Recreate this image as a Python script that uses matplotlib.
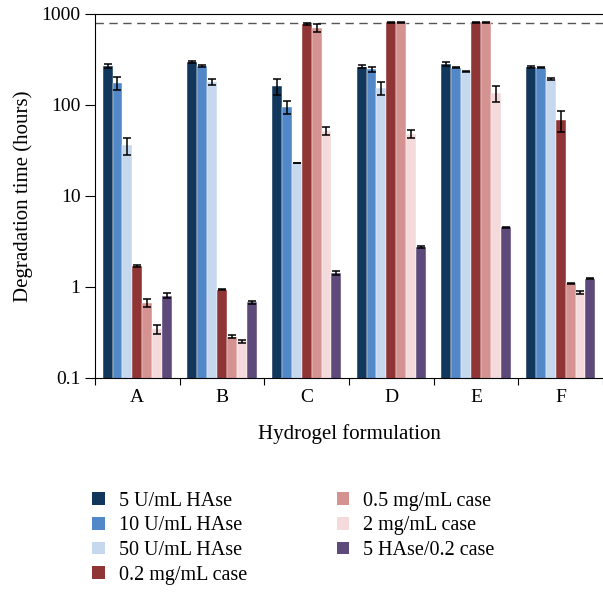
import matplotlib.pyplot as plt
import numpy as np
from matplotlib.patches import Patch

plt.rcParams['font.family'] = ['Liberation Serif', 'DejaVu Serif']

groups = ["A", "B", "C", "D", "E", "F"]
series = ["5 U/mL HAse", "10 U/mL HAse", "50 U/mL HAse", "0.2 mg/mL case",
          "0.5 mg/mL case", "2 mg/mL case", "5 HAse/0.2 case"]
colors = ["#12375c", "#5288c8", "#c5d8ee", "#8f3536", "#d49391", "#f4dadb", "#5d4a7a"]

# mean degradation time (hours), one list per series, groups A-F
hase5 = [268, 297, 162, 264, 282, 262]
hase10 = [173, 268, 95, 247, 257, 257]
hase50 = [36, 180, 23.1, 155, 234, 193]
case02 = [1.70, 0.93, 776, 805, 805, 68]
case05 = [0.67, 0.285, 702, 805, 805, 1.10]
case2 = [0.345, 0.253, 52, 48, 135, 0.875]
combo = [0.80, 0.68, 1.43, 2.73, 4.53, 1.23]

# error bar half-widths (hours)
hase5_err = [12, 6, 33, 8, 12, 6]
hase10_err = [28, 5, 15, 15, 4, 4]
hase50_err = [7.5, 13, 0.2, 25, 3, 6]
case02_err = [0.06, 0.01, 25, 5, 5, 18]
case05_err = [0.06, 0.012, 65, 5, 5, 0.01]
case2_err = [0.04, 0.01, 5, 4.5, 26, 0.03]
combo_err = [0.05, 0.03, 0.08, 0.06, 0.08, 0.01]

limit = 790

values = [hase5, hase10, hase50, case02, case05, case2, combo]
errors = [hase5_err, hase10_err, hase50_err, case02_err, case05_err, case2_err, combo_err]

fig = plt.figure(figsize=(6.03, 5.92), dpi=100)
ax = fig.add_axes([0.1575, 0.3615, 0.8425, 0.615])

x = np.arange(len(groups)) + 0.5
w = 0.117
for i, (vals, errs) in enumerate(zip(values, errors)):
    pos = x + (i - 3) * w
    ax.bar(pos, vals, width=w, color=colors[i], edgecolor="white", linewidth=0.3,
           zorder=2)
    ax.errorbar(pos, vals, yerr=errs, fmt="none", ecolor="black", elinewidth=1.1,
                capsize=3, capthick=1.1, zorder=3)

ax.axhline(limit, color="#555555", linestyle=(0, (6, 4)), linewidth=1, zorder=1)

ax.set_yscale("log")
ax.set_ylim(0.1, 1000)
ax.set_xlim(0, 6)
ax.set_yticks([0.1, 1, 10, 100, 1000])
ax.set_yticklabels(["0.1", "1", "10", "100", "1000"])
ax.minorticks_off()
ax.set_xticks(np.arange(0, 7))
ax.set_xticklabels([])
ax.set_xticks(x, minor=True)
ax.set_xticklabels(groups, minor=True)
ax.tick_params(axis="x", which="major", length=5, direction="out")
ax.tick_params(axis="x", which="minor", length=0, pad=8, labelsize=14)
ax.tick_params(axis="y", length=7, direction="out", labelsize=14)

ax.spines["right"].set_visible(False)
ax.set_ylabel("Degradation time (hours)", fontsize=15, labelpad=6)
ax.set_xlabel("Hydrogel formulation", fontsize=15, labelpad=13)

handles = [Patch(facecolor=c, label=s) for c, s in zip(colors, series)]
fig.legend(handles=handles, ncol=2, loc="upper left", bbox_to_anchor=(0.14, 0.183),
           frameon=False, fontsize=14.5, handlelength=0.6, handleheight=0.6,
           handletextpad=0.7, columnspacing=4.45, labelspacing=0.28,
           borderaxespad=0)

fig.savefig("out.png", dpi=100)
